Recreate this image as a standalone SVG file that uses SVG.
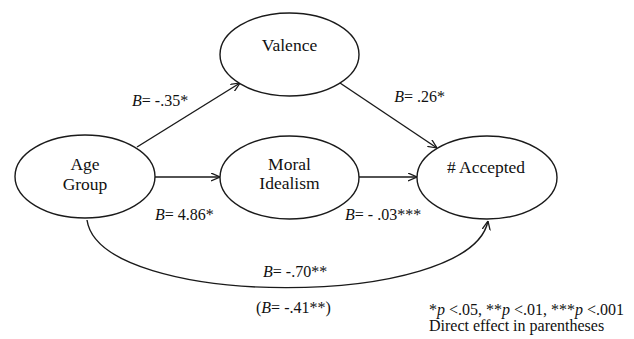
<svg xmlns="http://www.w3.org/2000/svg" width="634" height="339" viewBox="0 0 634 339">
<style>
.node ellipse{fill:#fff;stroke:#1a1a1a;stroke-width:1.4}
.lbl{font-family:"Liberation Serif","Times New Roman",serif;font-size:17.5px;fill:#111;text-anchor:middle}
.el{font-family:"Liberation Serif","Times New Roman",serif;font-size:16px;fill:#111}
.conn path{fill:none;stroke:#1a1a1a;stroke-width:1.4}
</style>
<defs>
<marker id="arr" viewBox="0 0 10 10" refX="10" refY="5" markerWidth="9" markerHeight="9" markerUnits="userSpaceOnUse" orient="auto">
<path d="M0,0.5 L10,5 L0,9.5" fill="none" stroke="#1a1a1a" stroke-width="1.4"/>
</marker>
</defs>
<rect width="634" height="339" fill="#fff"/>
<g class="conn">
<path d="M137,147 L240,83" marker-end="url(#arr)"/>
<path d="M340,83 L437,148" marker-end="url(#arr)"/>
<path d="M155,177 L220,177" marker-end="url(#arr)"/>
<path d="M359,177 L417,177" marker-end="url(#arr)"/>
<path d="M87,220 C100,310 470,310 488,221" marker-end="url(#arr)"/>
</g>
<g id="valence" class="node">
<ellipse cx="289.5" cy="54.5" rx="69.5" ry="41.5"/>
<text class="lbl" x="289.5" y="51">Valence</text>
</g>
<g id="age-group" class="node">
<ellipse cx="85" cy="176.5" rx="70" ry="41.5"/>
<text class="lbl" x="85" y="170">Age</text>
<text class="lbl" x="85" y="190">Group</text>
</g>
<g id="moral-idealism" class="node">
<ellipse cx="289.5" cy="177.5" rx="69.5" ry="41.5"/>
<text class="lbl" x="289.5" y="170">Moral</text>
<text class="lbl" x="289.5" y="189">Idealism</text>
</g>
<g id="accepted" class="node">
<ellipse cx="487" cy="177.5" rx="70" ry="41.5"/>
<text class="lbl" x="486" y="173"># Accepted</text>
</g>
<g id="labels">
<text class="el" x="132" y="106"><tspan font-style="italic">B</tspan>= -.35*</text>
<text class="el" x="445" y="102" text-anchor="end"><tspan font-style="italic">B</tspan>= .26*</text>
<text class="el" x="155" y="220"><tspan font-style="italic">B</tspan>= 4.86*</text>
<text class="el" x="345" y="220"><tspan font-style="italic">B</tspan>= - .03***</text>
<text class="el" x="263" y="277"><tspan font-style="italic">B</tspan>= -.70**</text>
<text class="el" x="256" y="313">(<tspan font-style="italic">B</tspan>= -.41**)</text>
<text class="el" x="429" y="315">*<tspan font-style="italic">p</tspan> &lt;.05, **<tspan font-style="italic">p</tspan> &lt;.01, ***<tspan font-style="italic">p</tspan> &lt;.001</text>
<text class="el" x="429" y="331">Direct effect in parentheses</text>
</g>
</svg>
